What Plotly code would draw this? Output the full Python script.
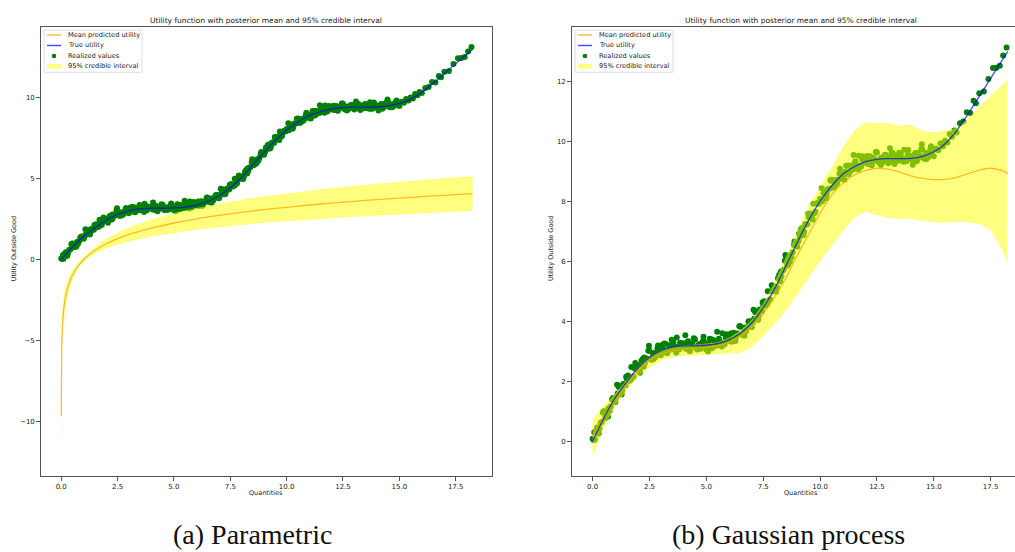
import plotly.graph_objects as go

# ---------------- data ----------------
realized_x_a = [0.0, 0.1, 0.2, 0.3, 0.4, 0.5, 0.6, 0.7, 0.8, 0.9,
                1.0, 1.1, 1.2, 1.3, 1.4, 1.5, 1.6, 1.7, 1.8, 1.9,
                2.0, 2.1, 2.2, 2.3, 2.4, 2.5, 2.6, 2.7, 2.8, 2.9,
                3.0, 3.1, 3.2, 3.3, 3.4, 3.5, 3.6, 3.7, 3.8, 3.9,
                4.0, 4.1, 4.2, 4.3, 4.4, 4.5, 4.6, 4.7, 4.8, 4.9,
                5.0, 5.1, 5.2, 5.3, 5.4, 5.5, 5.6, 5.7, 5.8, 5.9,
                6.0, 6.1, 6.2, 6.3, 6.4, 6.5, 6.6, 6.7, 6.8, 6.9,
                7.0, 7.1, 7.2, 7.3, 7.4, 7.5, 7.6, 7.7, 7.8, 7.9,
                8.0, 8.1, 8.2, 8.3, 8.4, 8.5, 8.6, 8.7, 8.8, 8.9,
                9.0, 9.1, 9.2, 9.3, 9.4, 9.5, 9.6, 9.7, 9.8, 9.9,
                10.0, 10.1, 10.2, 10.3, 10.4, 10.5, 10.6, 10.7, 10.8, 10.9,
                11.0, 11.1, 11.2, 11.3, 11.4, 11.5, 11.6, 11.7, 11.8, 11.9,
                12.0, 12.1, 12.2, 12.3, 12.4, 12.5, 12.6, 12.7, 12.8, 12.9,
                13.0, 13.1, 13.2, 13.3, 13.4, 13.5, 13.6, 13.7, 13.8, 13.9,
                14.0, 14.1, 14.2, 14.3, 14.4, 14.5, 14.6, 14.7, 14.8, 14.9,
                15.0]
realized_y_a = [0.08, 0.06, 0.46, 0.42, 0.64, 1.00, 0.79, 1.10, 1.16, 1.44,
                1.30, 1.59, 1.84, 1.69, 1.87, 2.08, 2.01, 2.47, 2.16, 2.42,
                2.53, 2.42, 2.74, 2.61, 2.75, 3.02, 2.72, 2.94, 2.91, 3.10,
                2.87, 3.07, 3.25, 3.01, 3.12, 3.24, 3.09, 3.46, 3.06, 3.23,
                3.26, 3.08, 3.33, 3.13, 3.20, 3.40, 3.06, 3.24, 3.17, 3.32,
                3.05, 3.24, 3.40, 3.15, 3.24, 3.35, 3.22, 3.60, 3.23, 3.41,
                3.46, 3.32, 3.62, 3.46, 3.58, 3.82, 3.55, 3.79, 3.79, 4.00,
                3.80, 4.08, 4.33, 4.17, 4.35, 4.55, 4.52, 5.00, 4.73, 5.01,
                5.16, 5.13, 5.54, 5.49, 5.72, 6.07, 5.89, 6.21, 6.30, 6.59,
                6.48, 6.81, 7.11, 6.99, 7.22, 7.47, 7.44, 7.92, 7.65, 7.93,
                8.08, 8.00, 8.35, 8.25, 8.42, 8.72, 8.46, 8.71, 8.72, 8.94,
                8.75, 8.98, 9.18, 8.97, 9.10, 9.25, 9.12, 9.52, 9.15, 9.35,
                9.40, 9.24, 9.50, 9.32, 9.40, 9.62, 9.28, 9.46, 9.39, 9.54,
                9.27, 9.45, 9.60, 9.34, 9.42, 9.52, 9.36, 9.72, 9.33, 9.49,
                9.51, 9.34, 9.61, 9.42, 9.51, 9.72, 9.41, 9.61, 9.57, 9.74,
                9.50]
realized_x_b = [0.05, 0.15, 0.25, 0.35, 0.45, 0.55, 0.65, 0.75, 0.85, 0.95,
                1.05, 1.15, 1.25, 1.35, 1.45, 1.55, 1.65, 1.75, 1.85, 1.95,
                2.05, 2.15, 2.25, 2.35, 2.45, 2.55, 2.65, 2.75, 2.85, 2.95,
                3.05, 3.15, 3.25, 3.35, 3.45, 3.55, 3.65, 3.75, 3.85, 3.95,
                4.05, 4.15, 4.25, 4.35, 4.45, 4.55, 4.65, 4.75, 4.85, 4.95,
                5.05, 5.15, 5.25, 5.35, 5.45, 5.55, 5.65, 5.75, 5.85, 5.95,
                6.05, 6.15, 6.25, 6.35, 6.45, 6.55, 6.65, 6.75, 6.85, 6.95,
                7.05, 7.15, 7.25, 7.35, 7.45, 7.55, 7.65, 7.75, 7.85, 7.95,
                8.05, 8.15, 8.25, 8.35, 8.45, 8.55, 8.65, 8.75, 8.85, 8.95,
                9.05, 9.15, 9.25, 9.35, 9.45, 9.55, 9.65, 9.75, 9.85, 9.95,
                10.05, 10.15, 10.25, 10.35, 10.45, 10.55, 10.65, 10.75, 10.85, 10.95,
                11.05, 11.15, 11.25, 11.35, 11.45, 11.55, 11.65, 11.75, 11.85, 11.95,
                12.05, 12.15, 12.25, 12.35, 12.45, 12.55, 12.65, 12.75, 12.85, 12.95,
                13.05, 13.15, 13.25, 13.35, 13.45, 13.55, 13.65, 13.75, 13.85, 13.95,
                14.05, 14.15, 14.25, 14.35, 14.45, 14.55, 14.65, 14.75, 14.85, 14.95]
realized_y_b = [0.04, 0.35, 0.25, 0.61, 0.95, 0.77, 0.99, 1.01, 1.39, 1.42,
                1.47, 1.81, 1.59, 1.91, 1.86, 2.19, 2.12, 2.13, 2.42, 2.38,
                2.45, 2.68, 2.49, 2.76, 3.02, 2.74, 2.88, 2.80, 3.09, 3.04,
                3.00, 3.26, 2.95, 3.19, 3.06, 3.30, 3.15, 3.07, 3.28, 3.16,
                3.14, 3.30, 3.04, 3.24, 3.43, 3.10, 3.20, 3.08, 3.33, 3.24,
                3.18, 3.42, 3.10, 3.33, 3.18, 3.42, 3.29, 3.23, 3.45, 3.35,
                3.36, 3.57, 3.35, 3.59, 3.83, 3.56, 3.72, 3.67, 3.99, 3.96,
                3.97, 4.30, 4.07, 4.39, 4.33, 4.67, 4.64, 4.68, 5.00, 5.00,
                5.12, 5.43, 5.33, 5.68, 6.02, 5.85, 6.09, 6.13, 6.54, 6.59,
                6.67, 7.05, 6.87, 7.24, 7.23, 7.59, 7.56, 7.60, 7.92, 7.92,
                8.01, 8.27, 8.11, 8.41, 8.70, 8.46, 8.63, 8.59, 8.92, 8.90,
                8.90, 9.18, 8.90, 9.17, 9.06, 9.33, 9.20, 9.15, 9.38, 9.28,
                9.29, 9.46, 9.22, 9.44, 9.64, 9.32, 9.42, 9.30, 9.55, 9.46,
                9.39, 9.62, 9.29, 9.51, 9.35, 9.58, 9.42, 9.34, 9.54, 9.41,
                9.40, 9.57, 9.33, 9.54, 9.74, 9.44, 9.56, 9.47, 9.75, 9.68]
realized_x_c = [0.075, 0.275, 0.475, 0.675, 0.875, 1.075, 1.275, 1.475, 1.675, 1.875,
                2.075, 2.275, 2.475, 2.675, 2.875, 3.075, 3.275, 3.475, 3.675, 3.875,
                4.075, 4.275, 4.475, 4.675, 4.875, 5.075, 5.275, 5.475, 5.675, 5.875,
                6.075, 6.275, 6.475, 6.675, 6.875, 7.075, 7.275, 7.475, 7.675, 7.875,
                8.075, 8.275, 8.475, 8.675, 8.875, 9.075, 9.275, 9.475, 9.675, 9.875,
                10.075, 10.275, 10.475, 10.675, 10.875, 11.075, 11.275, 11.475, 11.675, 11.875,
                12.075, 12.275, 12.475, 12.675, 12.875, 13.075, 13.275, 13.475, 13.675, 13.875,
                14.075, 14.275, 14.475, 14.675, 14.875]
realized_y_c = [0.30, 0.27, 0.99, 0.82, 1.38, 1.88, 1.56, 2.15, 2.05, 2.61,
                2.28, 2.79, 3.18, 2.74, 3.19, 3.22, 2.93, 3.38, 2.95, 3.27,
                3.53, 3.00, 3.38, 3.09, 3.48, 2.99, 3.38, 3.65, 3.16, 3.57,
                3.59, 3.34, 3.84, 3.52, 3.96, 4.38, 4.05, 4.63, 4.57, 5.20,
                4.98, 5.65, 6.21, 5.98, 6.66, 6.92, 6.88, 7.58, 7.39, 7.94,
                8.43, 8.10, 8.68, 8.54, 9.08, 8.72, 9.19, 9.54, 9.07, 9.50,
                9.51, 9.20, 9.65, 9.21, 9.52, 9.77, 9.24, 9.62, 9.32, 9.71,
                9.22, 9.62, 9.90, 9.41, 9.83]
realized_x_tail = [15.1, 15.2, 15.3, 15.4, 15.5, 15.6, 15.7, 15.8, 15.9, 16.0,
                   16.15, 16.3, 16.45, 16.6, 16.75, 16.85, 17.0, 17.2, 17.4, 17.6,
                   17.75, 17.9, 18.05, 18.2]
realized_y_tail = [9.76, 9.70, 9.93, 9.83, 10.02, 9.96, 10.24, 10.15, 10.36, 10.29,
                   10.60, 10.66, 10.97, 10.94, 11.35, 11.27, 11.60, 11.66, 12.08, 12.44,
                   12.45, 12.52, 12.86, 13.13]

true_x = [0, 0.5, 1, 1.5, 2, 2.5, 3, 3.5, 4, 4.5, 5, 5.5, 6, 6.5, 7, 7.5, 8, 8.5, 9, 9.5,
          10, 10.5, 11, 11.5, 12, 12.5, 13, 13.5, 14, 14.5, 15, 15.5, 16, 16.5, 17, 17.5,
          18, 18.25]
true_utility = [0, 0.78, 1.45, 1.98, 2.45, 2.8, 3.02, 3.14, 3.18, 3.18, 3.2, 3.25, 3.38, 3.6,
                3.95, 4.45, 5.08, 5.85, 6.63, 7.37, 8.0, 8.5, 8.9, 9.15, 9.32, 9.4, 9.42,
                9.42, 9.43, 9.5, 9.65, 9.92, 10.35, 10.9, 11.5, 12.1, 12.7, 12.99]

# (a) parametric model
param_x = [0.001, 0.02, 0.05, 0.1, 0.2, 0.35, 0.5, 0.75, 1, 1.5, 2, 2.5, 3, 4, 5, 6, 7, 8,
           9, 10, 11, 12, 13, 14, 15, 16, 17, 18, 18.25]
param_mean = [-9.65, -5.45, -4.17, -3.2, -2.23, -1.45, -0.95, -0.38, 0.02, 0.59, 0.99, 1.3,
              1.56, 1.96, 2.27, 2.53, 2.74, 2.93, 3.1, 3.24, 3.38, 3.5, 3.61, 3.71, 3.81,
              3.9, 3.98, 4.07, 4.08]
param_upper = [-7.25, -4.0, -3.07, -2.35, -1.63, -1.05, -0.65, -0.2, 0.16, 0.79, 1.29, 1.67,
               1.99, 2.49, 2.88, 3.2, 3.47, 3.71, 3.92, 4.1, 4.28, 4.43, 4.57, 4.7, 4.82,
               4.93, 5.03, 5.14, 5.15]
param_lower = [-12.05, -6.9, -5.27, -4.05, -2.83, -1.85, -1.25, -0.56, -0.12, 0.39, 0.69,
               0.93, 1.13, 1.43, 1.66, 1.86, 2.01, 2.15, 2.28, 2.38, 2.48, 2.57, 2.65, 2.72,
               2.8, 2.87, 2.93, 3.0, 3.01]

# (b) Gaussian process model
gp_x = [0, 0.5, 1, 1.5, 2, 2.5, 3, 3.5, 4, 4.5, 5, 5.5, 6, 6.5, 7, 7.5, 8, 8.5, 9, 9.5,
        10, 10.5, 11, 11.5, 12, 12.5, 13, 13.5, 14, 14.5, 15, 15.5, 16, 16.5, 17, 17.5,
        18, 18.25]
gp_mean = [0.15, 0.8, 1.4, 1.9, 2.35, 2.68, 2.9, 3.02, 3.08, 3.1, 3.13, 3.18, 3.3, 3.5,
           3.82, 4.25, 4.8, 5.45, 6.2, 6.9, 7.6, 8.2, 8.6, 8.88, 9.03, 9.1, 9.07, 8.97,
           8.85, 8.76, 8.72, 8.73, 8.8, 8.92, 9.04, 9.1, 9.02, 8.93]
gp_upper = [0.73, 1.2, 1.6, 2.05, 2.5, 2.85, 3.05, 3.15, 3.2, 3.22, 3.25, 3.3, 3.45, 3.7,
            4.05, 4.6, 5.3, 6.15, 7.05, 7.85, 8.5, 9.1, 9.8, 10.35, 10.62, 10.6, 10.62,
            10.52, 10.55, 10.35, 10.3, 10.35, 10.45, 10.75, 11.15, 11.5, 11.85, 12.05]
gp_lower = [-0.5, 0.45, 1.15, 1.7, 2.15, 2.45, 2.68, 2.8, 2.85, 2.85, 2.88, 2.9, 2.92, 2.95,
            3.15, 3.5, 3.9, 4.35, 4.9, 5.45, 6.0, 6.5, 7.0, 7.45, 7.65, 7.55, 7.45, 7.42,
            7.42, 7.35, 7.3, 7.28, 7.32, 7.3, 7.25, 7.05, 6.4, 5.9]

x_ticks_a = [0, 2.5, 5, 7.5, 10, 12.5, 15, 17.5]
y_ticks_a = [-10, -5, 0, 5, 10]
y_ticks_b = [0, 2, 4, 6, 8, 10, 12]

title_text = "Utility function with posterior mean and 95% credible interval"
legend_labels = ["Mean predicted utility", "True utility", "Realized values", "95% credible interval"]
captions = ["(a) Parametric", "(b) Gaussian process"]

# ---------------- styling / layout ----------------
W, H = 1015, 552


def px(x):
    return x / W


def py(y):
    return 1 - y / H


GREEN = "#008000"
FILL = "rgba(255,255,0,0.5)"
ORANGE = "rgba(255,165,0,0.75)"
BLUE = "rgba(0,0,255,0.7)"
FONT = "DejaVu Sans"

realized_x = realized_x_a + realized_x_b + realized_x_c + realized_x_tail
realized_y = realized_y_a + realized_y_b + realized_y_c + realized_y_tail

fig = go.Figure()


def add_panel(xa, ya, cx, cm, clo, chi):
    fig.add_trace(go.Scatter(x=realized_x, y=realized_y, mode="markers",
                             marker=dict(color=GREEN, size=6, line=dict(width=0)),
                             xaxis=xa, yaxis=ya, showlegend=False))
    fig.add_trace(go.Scatter(x=cx, y=clo, mode="lines", line=dict(width=0, color=FILL),
                             xaxis=xa, yaxis=ya, showlegend=False))
    fig.add_trace(go.Scatter(x=cx, y=chi, mode="lines", line=dict(width=0, color=FILL),
                             fill="tonexty", fillcolor=FILL,
                             xaxis=xa, yaxis=ya, showlegend=False))
    fig.add_trace(go.Scatter(x=cx, y=cm, mode="lines",
                             line=dict(color=ORANGE, width=1.3, shape="spline", smoothing=0.6),
                             xaxis=xa, yaxis=ya, showlegend=False))
    fig.add_trace(go.Scatter(x=true_x, y=true_utility, mode="lines",
                             line=dict(color=BLUE, width=1.3, shape="spline", smoothing=0.8),
                             xaxis=xa, yaxis=ya, showlegend=False))


add_panel("x", "y", param_x, param_mean, param_lower, param_upper)
add_panel("x2", "y2", gp_x, gp_mean, gp_lower, gp_upper)

axis_common = dict(showgrid=False, zeroline=False, showline=True, linecolor="#555",
                   linewidth=1, ticks="outside", ticklen=3.5, tickwidth=0.8,
                   tickcolor="#555", tickfont=dict(family=FONT, size=7, color="#222"))

y_dom = [py(476), py(27)]
fig.update_layout(
    width=W, height=H, autosize=False,
    margin=dict(l=0, r=0, t=0, b=0),
    paper_bgcolor="white", plot_bgcolor="white",
    showlegend=False,
    xaxis=dict(domain=[px(40.7), px(492)], range=[-0.91, 19.11], anchor="y",
               tickvals=x_ticks_a, tickformat=".1f", mirror=True, **axis_common),
    yaxis=dict(domain=y_dom, range=[-13.35, 14.37], anchor="x",
               tickvals=y_ticks_a, mirror=True, **axis_common),
    xaxis2=dict(domain=[px(571.7), 1.0], range=[-0.92, 18.57], anchor="y2",
                tickvals=x_ticks_a, tickformat=".1f", mirror=True, **axis_common),
    yaxis2=dict(domain=y_dom, range=[-1.16, 13.81], anchor="x2",
                tickvals=y_ticks_b, mirror=False, **axis_common),
)

annotations = []
shapes = []


def text(x, y, s, size, angle=0, xanchor="center", yanchor="middle", family=FONT, color="#222"):
    annotations.append(dict(x=px(x), y=py(y), xref="paper", yref="paper", text=s,
                            showarrow=False, xanchor=xanchor, yanchor=yanchor,
                            textangle=angle, font=dict(family=family, size=size, color=color)))


for cx, lx in [(266.3, 14.3), (800.5, 551)]:
    text(cx, 20, title_text, 7.5)
    text(cx, 493, "Quantities", 6.5)
    text(lx, 249, "Utility Outside Good", 6.5, angle=-90)

text(252.5, 551.5, captions[0], 28, yanchor="bottom", family="Liberation Serif", color="#111")
text(788, 551.5, captions[1], 28, yanchor="bottom", family="Liberation Serif", color="#111")

rows = [35, 45.5, 56, 66.3]
for L in [44, 575]:
    shapes.append(dict(type="rect", xref="paper", yref="paper",
                       x0=px(L), x1=px(L + 98), y0=py(72.3), y1=py(30),
                       line=dict(color="#d6d6d6", width=0.8),
                       fillcolor="rgba(255,255,255,0.8)"))
    shapes.append(dict(type="line", xref="paper", yref="paper",
                       x0=px(L + 3), x1=px(L + 17), y0=py(rows[0]), y1=py(rows[0]),
                       line=dict(color=ORANGE, width=1.5)))
    shapes.append(dict(type="line", xref="paper", yref="paper",
                       x0=px(L + 3), x1=px(L + 17), y0=py(rows[1]), y1=py(rows[1]),
                       line=dict(color=BLUE, width=1.5)))
    shapes.append(dict(type="circle", xref="paper", yref="paper",
                       x0=px(L + 10 - 2.3), x1=px(L + 10 + 2.3),
                       y0=py(rows[2] + 2.3), y1=py(rows[2] - 2.3),
                       line=dict(width=0), fillcolor=GREEN))
    shapes.append(dict(type="rect", xref="paper", yref="paper",
                       x0=px(L + 3), x1=px(L + 17), y0=py(rows[3] + 2.4), y1=py(rows[3] - 2.4),
                       line=dict(width=0), fillcolor=FILL))
    for r, lab in zip(rows, legend_labels):
        text(L + 21.5, r, lab, 6.6, xanchor="left")

fig.update_layout(annotations=annotations, shapes=shapes)
fig.write_html("out.html")
